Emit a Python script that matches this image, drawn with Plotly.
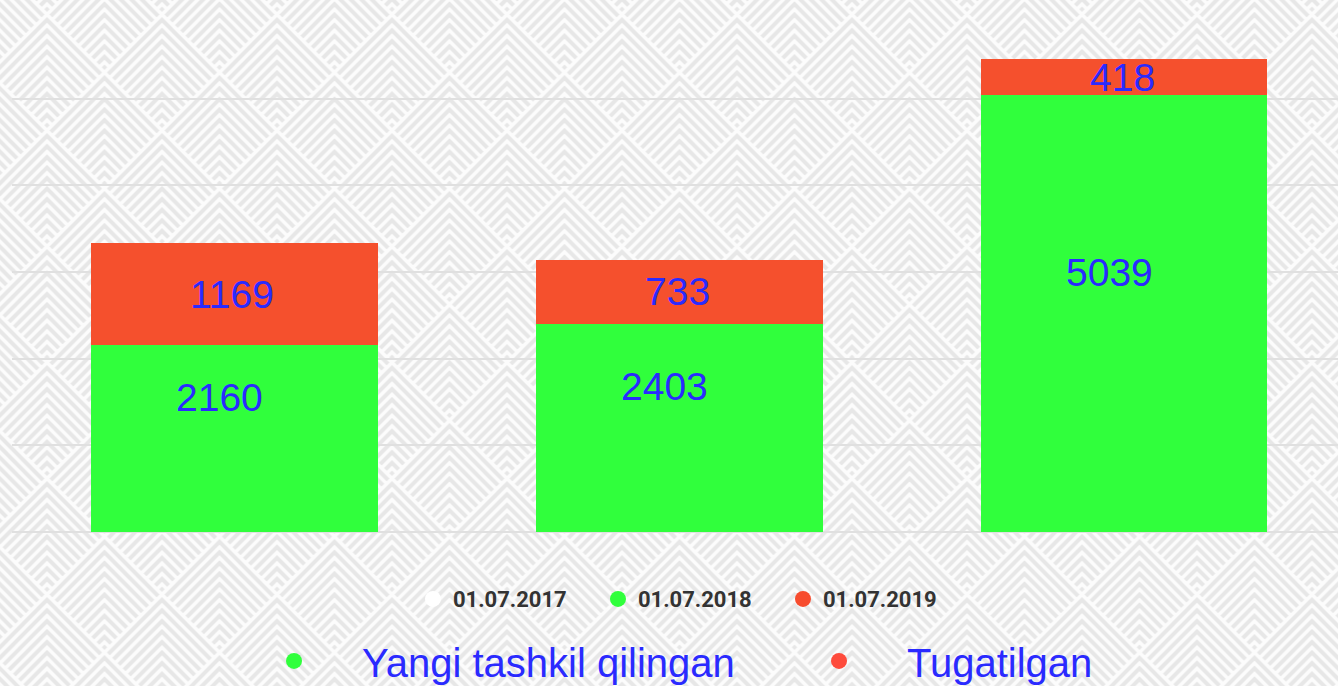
import base64
import plotly.graph_objects as go

# ---------------- data ----------------
categories = ["01.07.2017", "01.07.2018", "01.07.2019"]
new_created = [2160, 2403, 5039]      # Yangi tashkil qilingan
liquidated = [1169, 733, 418]         # Tugatilgan
series_names = ["Yangi tashkil qilingan", "Tugatilgan"]
date_legend = ["01.07.2017", "01.07.2018", "01.07.2019"]
y_ticks = [0, 1000, 2000, 3000, 4000, 5000, 6000]

# ---------------- styles ----------------
GREEN = "#30ff3c"
RED = "#f5502d"
LABEL_BLUE = "#2a2aff"
date_colors = ["#ffffff", "#30ff3c", "#f74c2e"]
series_colors = ["#30ff3c", "#fe4b3c"]

W, H = 1338, 686
ML, MR, MT, MB = 12, 0, 12, 154
PW, PH = W - ML - MR, H - MT - MB


# ---------------- chevron background (SVG pattern) ----------------
def chevron_svg():
    tw, th = 115, 116
    hw, hh = tw / 2, th / 2
    n = 11
    d = th / n
    s = hh / hw
    tops = [(hw, 0), (0, -hh), (tw, -hh), (0, hh), (tw, hh)]
    clips, groups = [], []
    for i, (cx, ty) in enumerate(tops):
        poly = f"{cx},{ty} {cx + hw},{ty + hh} {cx},{ty + th} {cx - hw},{ty + hh}"
        clips.append(f'<clipPath id="c{i}"><polygon points="{poly}"/></clipPath>')
        lines = []
        for k in range(n):
            ay = ty + d * (k + 0.75)
            L = 90
            lines.append(
                f'<polyline points="{cx - L},{ay + L * s} {cx},{ay} {cx + L},{ay + L * s}"/>'
            )
        groups.append(f'<g clip-path="url(#c{i})">' + "".join(lines) + "</g>")
    svg = (
        f'<svg xmlns="http://www.w3.org/2000/svg" width="{W}" height="{H}" '
        f'viewBox="0 0 {W} {H}" preserveAspectRatio="none">'
        "<defs>" + "".join(clips) +
        '<filter id="b" x="-10%" y="-10%" width="120%" height="120%">'
        '<feGaussianBlur stdDeviation="0.7"/></filter>'
        f'<pattern id="p" patternUnits="userSpaceOnUse" x="{47 - hw}" y="12" width="{tw}" height="{th}">'
        f'<rect width="{tw}" height="{th}" fill="#fcfcfc"/>'
        '<g fill="none" stroke="#e7e7e7" stroke-width="4" filter="url(#b)">'
        + "".join(groups) + "</g>"
        "</pattern></defs>"
        f'<rect width="{W}" height="{H}" fill="url(#p)"/></svg>'
    )
    return "data:image/svg+xml;base64," + base64.b64encode(svg.encode()).decode()


fig = go.Figure()

fig.add_trace(go.Bar(
    x=categories, y=new_created, name=series_names[0],
    marker=dict(color=GREEN, line=dict(width=0)), width=0.643, showlegend=False,
))
fig.add_trace(go.Bar(
    x=categories, y=liquidated, name=series_names[1],
    marker=dict(color=RED, line=dict(width=0)), width=0.643, showlegend=False,
))

# legend 1: dates
for name, col in zip(date_legend, date_colors):
    fig.add_trace(go.Scatter(
        x=[None], y=[None], mode="markers", name=name, legend="legend",
        marker=dict(color=col, size=16, symbol="circle", line=dict(width=0)),
    ))
# legend 2: series
for name, col in zip(series_names, series_colors):
    fig.add_trace(go.Scatter(
        x=[None], y=[None], mode="markers", name=name, legend="legend2",
        marker=dict(color=col, size=16, symbol="circle", line=dict(width=0)),
    ))

label_font = dict(family="Liberation Sans, Arial, sans-serif", size=39, color=LABEL_BLUE)
annotations = []
for c, g, r in zip(categories, new_created, liquidated):
    annotations.append(dict(x=c, y=g / 2, text=str(g), showarrow=False, yshift=41,
                            xshift=-15, font=label_font, xref="x", yref="y"))
    annotations.append(dict(x=c, y=g + r / 2, text=str(r), showarrow=False,
                            xshift=-2, font=label_font, xref="x", yref="y"))

fig.update_layout(
    width=W, height=H,
    margin=dict(l=ML, r=MR, t=MT, b=MB, autoexpand=False),
    paper_bgcolor="#f6f6f6",
    plot_bgcolor="rgba(0,0,0,0)",
    barmode="stack",
    annotations=annotations,
    xaxis=dict(type="category", range=[-0.5, 2.48], showticklabels=False,
               showgrid=False, zeroline=False, showline=False, ticks=""),
    yaxis=dict(range=[0, 6000], tickvals=y_ticks, showticklabels=False,
               showgrid=True, gridcolor="#e0e0e0", gridwidth=2,
               zeroline=True, zerolinecolor="#e0e0e0", zerolinewidth=2,
               showline=False, ticks=""),
    legend=dict(orientation="h", x=0.3024, xanchor="left", y=-0.129, yanchor="middle",
                traceorder="normal",
                bgcolor="rgba(0,0,0,0)", entrywidth=140, itemsizing="trace",
                font=dict(family="Roboto, sans-serif", size=22, color="#333333", weight="bold")),
    legend2=dict(orientation="h", x=0.1614, xanchor="left", y=-0.248, yanchor="middle",
                 traceorder="normal",
                 bgcolor="rgba(0,0,0,0)", entrywidth=404, itemwidth=126, itemsizing="trace",
                 font=dict(family="Liberation Sans, Arial, sans-serif", size=40, color=LABEL_BLUE)),
    images=[dict(source=chevron_svg(), xref="paper", yref="paper",
                 x=-ML / PW, y=1 + MT / PH, sizex=W / PW, sizey=H / PH,
                 xanchor="left", yanchor="top", sizing="stretch", layer="below")],
)

fig.write_html("out.html", config={"displayModeBar": False},
               post_script="document.body.style.margin='0';")
